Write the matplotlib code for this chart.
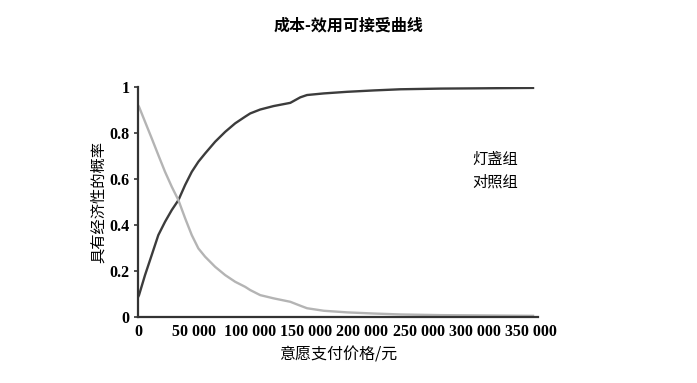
import numpy as np
import matplotlib.pyplot as plt

plt.rcParams['font.family'] = ['Noto Sans CJK SC', 'DejaVu Sans']

# 意愿支付价格（元）
price = [0, 900, 6250, 12200, 18100, 24100, 30100, 36000, 42000, 47900,
         53800, 59800, 68750, 77700, 86600, 95500, 100000, 108900, 120800,
         135700, 144600, 150600, 165500, 186300, 210000, 233700, 270000,
         300000, 352000]
# 灯盏组（深色）
p_lamp = [0.085, 0.094, 0.181, 0.268, 0.355, 0.413, 0.464, 0.507, 0.573, 0.63,
          0.674, 0.71, 0.761, 0.804, 0.841, 0.87, 0.884, 0.901, 0.916,
          0.930, 0.954, 0.964, 0.971, 0.978, 0.984, 0.989, 0.992,
          0.993, 0.995]
# 对照组（浅色）
p_ctrl = [0.92, 0.913, 0.848, 0.776, 0.703, 0.63, 0.565, 0.507, 0.428, 0.355,
          0.297, 0.261, 0.217, 0.181, 0.152, 0.13, 0.116, 0.094, 0.08,
          0.065, 0.048, 0.037, 0.026, 0.019, 0.014, 0.01, 0.007,
          0.006, 0.004]

xticks = [0, 50000, 100000, 150000, 200000, 250000, 300000, 350000]
xtick_labels = ['0', '50 000', '100 000', '150 000', '200 000', '250 000', '300 000', '350 000']
yticks = [0, 0.2, 0.4, 0.6, 0.8, 1]
ytick_labels = ['0', '0.2', '0.4', '0.6', '0.8', '1']

fig = plt.figure(figsize=(6.97, 3.83), dpi=100)
ax = fig.add_axes([0.198, 0.173, 0.574, 0.6005])

ax.plot(price, p_lamp, color='#3c3c3c', lw=1.7)
ax.plot(price, p_ctrl, color='#b4b4b4', lw=1.7)

ax.set_xlim(0, 356500)
ax.set_ylim(0, 1)
for s in ['top', 'right']:
    ax.spines[s].set_visible(False)
for s in ['left', 'bottom']:
    ax.spines[s].set_color('#333333')
    ax.spines[s].set_linewidth(1.6)

tick_font = dict(family='Liberation Serif', weight='bold', size=11.5)
ax.set_xticks(xticks)
ax.set_xticklabels(xtick_labels, fontdict=tick_font)
ax.set_yticks(yticks)
ax.set_yticklabels(ytick_labels, fontdict=tick_font)
ax.tick_params(axis='x', length=0, pad=5)
ax.tick_params(axis='y', length=3, width=1.2, color='#333333', pad=3)

ax.set_xlabel('意愿支付价格/元', fontsize=11.5, labelpad=5)
ax.set_ylabel('具有经济性的概率', fontsize=11, labelpad=2)

ax.text(0.835, 0.665, '灯盏组', transform=ax.transAxes, fontsize=11)
ax.text(0.835, 0.565, '对照组', transform=ax.transAxes, fontsize=11)

fig.suptitle('成本-效用可接受曲线', y=0.955, fontsize=11.5, fontweight='bold')

fig.savefig('out.png', dpi=100)
